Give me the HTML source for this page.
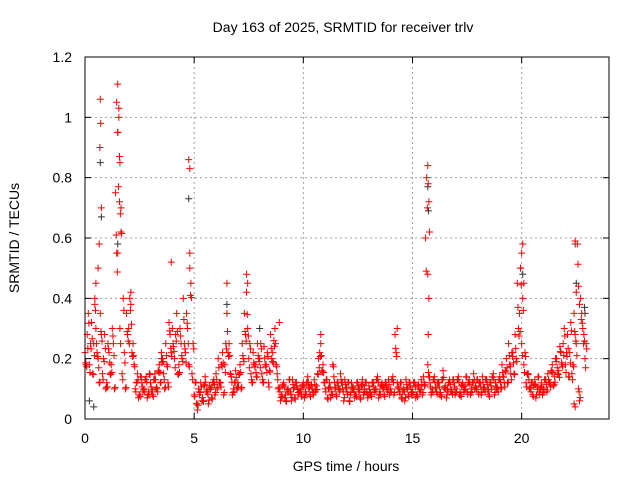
<!DOCTYPE html>
<html><head><meta charset="utf-8"><style>
body{margin:0;background:#fff}
svg{font-family:"Liberation Sans",sans-serif;font-size:14px}
</style></head><body>
<svg id="c" width="640" height="480" xmlns="http://www.w3.org/2000/svg">
<text x="343" y="32" text-anchor="middle">Day 163 of 2025, SRMTID for receiver trlv</text>
<text x="346" y="471" text-anchor="middle">GPS time / hours</text>
<text transform="translate(19,238) rotate(-90)" text-anchor="middle">SRMTID / TECUs</text>
<g id="grid"></g><g id="pts"></g>
<rect x="85" y="57" width="524" height="362" fill="none" stroke="#000" stroke-width="1"/>
<g id="ticks"></g>
</svg>
<script>
const xTicks=[0,5,10,15,20];
const yTicks=[0,0.2,0.4,0.6,0.8,1,1.2];
const yTickLabels=["0","0.2","0.4","0.6","0.8","1","1.2"];
const seriesA=[.22,.28,.18,.32,.25,.30,.20,.35,.15,.28,.12,.22,.18,.25,.75,.95,.30,.15,.22,.35,.30,.38,.25,.10,.15,.08,.12,.10,.14,.09,.12,.08,.15,.10,.18,.22,.15,.25,.12,.28,.30,.20,.35,.18,.25,.40,.22,.30,.50,.15,.08,.05,.10,.12,.06,.14,.09,.11,.07,.13,.15,.20,.12,.22,.18,.35,.25,.14,.10,.16,.12,.18,.25,.35,.42,.20,.15,.22,.18,.25,.20,.15,.24,.18,.12,.28,.22,.30,.15,.10,.08,.12,.06,.10,.09,.13,.07,.11,.10,.08,.12,.09,.14,.08,.10,.13,.11,.20,.25,.18,.10,.07,.12,.09,.14,.08,.11,.15,.10,.13,.09,.06,.12,.10,.08,.11,.07,.13,.10,.09,.11,.08,.12,.10,.14,.09,.12,.08,.11,.13,.10,.14,.28,.12,.09,.07,.10,.13,.08,.11,.09,.12,.08,.10,.13,.14,.60,.18,.12,.10,.14,.09,.12,.08,.16,.11,.10,.13,.09,.12,.10,.14,.08,.12,.11,.09,.13,.10,.15,.11,.09,.12,.14,.10,.13,.08,.11,.15,.12,.10,.14,.18,.12,.20,.25,.15,.22,.28,.45,.35,.25,.18,.12,.15,.10,.08,.13,.11,.09,.12,.10,.13,.15,.12,.18,.14,.20,.16,.22,.25,.18,.28,.22,.15,.35,.25,.10,.40,.30,.20];
const seriesB=[.18,.35,.25,.15,.40,.22,.12,.28,.20,.10,.25,.15,.30,.10,.55,1.0,.70,.40,.10,.28,.40,.22,.18,.12,.07,.14,.09,.13,.07,.15,.09,.13,.10,.16,.12,.20,.10,.18,.32,.22,.24,.28,.15,.30,.20,.25,.35,.18,.45,.25,.12,.03,.08,.06,.11,.09,.05,.10,.12,.08,.10,.12,.18,.08,.25,.22,.15,.08,.12,.10,.15,.10,.20,.28,.30,.25,.12,.18,.14,.20,.25,.12,.18,.22,.16,.20,.26,.18,.10,.06,.11,.07,.09,.13,.06,.10,.12,.08,.09,.11,.07,.12,.10,.11,.08,.09,.15,.22,.16,.12,.13,.10,.07,.18,.10,.12,.09,.12,.06,.10,.12,.08,.10,.07,.12,.09,.11,.08,.12,.07,.08,.12,.09,.13,.07,.11,.10,.12,.09,.08,.13,.08,.22,.10,.12,.09,.06,.10,.12,.08,.12,.07,.11,.09,.08,.11,.80,.14,.08,.13,.10,.12,.08,.13,.10,.07,.12,.09,.13,.08,.13,.08,.11,.09,.14,.12,.08,.12,.10,.13,.12,.08,.10,.13,.09,.12,.14,.08,.10,.13,.10,.14,.16,.12,.18,.22,.15,.20,.30,.50,.40,.22,.15,.10,.12,.11,.07,.14,.10,.08,.13,.09,.12,.16,.11,.20,.15,.24,.18,.30,.22,.14,.32,.18,.28,.58,.06,.35,.28,.25];
const spikeT=[0.7,0.72,0.68,0.75,0.65,0.6,1.5,1.45,1.55,1.5,1.6,1.58,1.62,1.65,1.5,4.75,4.8,4.8,3.95,15.7,15.72,15.75,15.78,15.7,15.75,15.72,20.05,20.0,19.95,20.1,22.45,22.5,22.6,22.65,22.4,22.45,6.5,7.4,7.45,2.1,8.9,10.8,14.3,0.5,0.45];
const spikeV=[1.06,0.98,0.9,0.7,0.58,0.5,1.11,1.05,1.03,0.95,0.85,0.72,0.68,0.62,0.55,0.86,0.83,0.55,0.52,0.84,0.78,0.72,0.62,0.48,0.4,0.28,0.58,0.55,0.5,0.45,0.59,0.42,0.44,0.38,0.05,0.04,0.45,0.48,0.45,0.42,0.32,0.28,0.3,0.45,0.38];
const blackT=[0.7,0.75,1.5,4.75,15.73,15.7,20.05,22.45,22.5,0.2,0.4,6.5,22.9,22.88,3.5,8.0];
const blackV=[0.85,0.67,0.58,0.73,0.69,0.77,0.48,0.58,0.45,0.06,0.04,0.38,0.35,0.37,0.2,0.3];
const NS="http://www.w3.org/2000/svg";
const X0=85,X1=609,Y0=419,Y1=57;
const sx=t=>X0+(X1-X0)*t/24, sy=v=>Y0-(Y0-Y1)*v/1.2;
function mk(tag,attrs,parent){const e=document.createElementNS(NS,tag);for(const k in attrs)e.setAttribute(k,attrs[k]);parent.appendChild(e);return e;}
const grid=document.getElementById('grid'),ticks=document.getElementById('ticks'),pts=document.getElementById('pts');
xTicks.forEach(t=>{
  if(t>0){const g=mk('line',{x1:sx(t),x2:sx(t),y1:Y1,y2:Y0,stroke:'#a0a0a0','stroke-dasharray':'2,3'},grid);
  
  }
  mk('line',{x1:sx(t),x2:sx(t),y1:Y0,y2:Y0-6,stroke:'#000'},ticks);
  mk('line',{x1:sx(t),x2:sx(t),y1:Y1,y2:Y1+6,stroke:'#000'},ticks);
  const l=mk('text',{x:sx(t),y:443,'text-anchor':'middle'},ticks);l.textContent=t;
  
  
});
yTicks.forEach((v,i)=>{
  if(v>0&&v<1.2){const g=mk('line',{x1:X0,x2:X1,y1:sy(v),y2:sy(v),stroke:'#a0a0a0','stroke-dasharray':'2,3'},grid);
  
  }
  mk('line',{x1:X0,x2:X0+6,y1:sy(v),y2:sy(v),stroke:'#000'},ticks);
  mk('line',{x1:X1,x2:X1-6,y1:sy(v),y2:sy(v),stroke:'#000'},ticks);
  const l=mk('text',{x:72,y:sy(v)+5,'text-anchor':'end'},ticks);l.textContent=yTickLabels[i];
  
  
});
function plus(t,v,col){const x=sx(t),y=sy(v);
  const p=mk('path',{d:`M${x-3.5},${y}h7M${x},${y-3.5}v7`,stroke:col,'stroke-width':1,fill:'none'},pts);
  
  }
blackT.forEach((t,i)=>plus(t,blackV[i],'#333'));
seriesA.forEach((v,i)=>plus(i*0.1,v,'#ff0000'));
seriesB.forEach((v,i)=>plus(i*0.1+0.05,v,'#ff0000'));
seriesA.forEach((v,i)=>plus(i*0.1+0.03,v*0.8+0.01,'#ff0000'));
seriesB.forEach((v,i)=>plus(i*0.1+0.08,v*0.85+0.02,'#ff0000'));
spikeT.forEach((t,i)=>plus(t,spikeV[i],'#ff0000'));
</script>
</body></html>
